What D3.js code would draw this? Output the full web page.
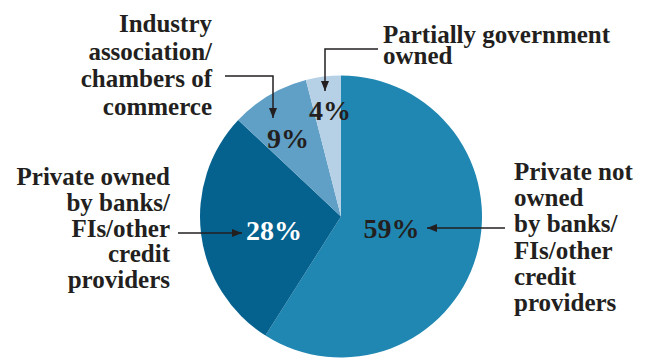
<!DOCTYPE html>
<html>
<head>
<meta charset="utf-8">
<script src="https://cdn.jsdelivr.net/npm/d3@7"></script>
<style>
  html, body { margin: 0; padding: 0; background: #ffffff; }
  svg { display: block; }
  text { font-family: "Liberation Serif", "DejaVu Serif", serif; font-weight: bold; fill: #231f20; }
</style>
</head>
<body>
<svg id="chart" width="647" height="358"></svg>
<script>
// Ownership shares, clockwise from 12 o'clock
const categories = [
  "Private not owned by banks/FIs/other credit providers",
  "Private owned by banks/FIs/other credit providers",
  "Industry association/chambers of commerce",
  "Partially government owned"
];
const shares = [59, 28, 9, 4];
const valueLabels = ["59%", "28%", "9%", "4%"];
const sliceColors = ["#1f87b1", "#05628f", "#609fc6", "#b6d0e5"];

// Category captions, broken into lines as set on the page
const captionLines = [
  ["Private not", "owned", "by banks/", "FIs/other", "credit", "providers"],
  ["Private owned", "by banks/", "FIs/other", "credit", "providers"],
  ["Industry", "association/", "chambers of", "commerce"],
  ["Partially government", "owned"]
];

const svg = d3.select("#chart");
const cx = 341, cy = 216.5, radius = 141;

const pie = d3.pie().sort(null).value(d => d);
const arc = d3.arc().innerRadius(0).outerRadius(radius);
const color = d3.scaleOrdinal().domain(d3.range(shares.length)).range(sliceColors);

const g = svg.append("g").attr("transform", `translate(${cx},${cy})`);
const arcs = pie(shares);

g.selectAll("path.slice")
  .data(arcs)
  .join("path")
  .attr("class", "slice")
  .attr("d", arc)
  .attr("fill", (d, i) => color(i));

// Percentage labels inside the slices (offsets from pie centre)
const pctLayout = [
  { dx: 50.5, dy: 21.5, fill: "#231f20" },
  { dx: -67, dy: 23.5, fill: "#ffffff" },
  { dx: -53, dy: -69, fill: "#231f20" },
  { dx: -11, dy: -97, fill: "#231f20" }
];
g.selectAll("text.pct")
  .data(arcs)
  .join("text")
  .attr("class", "pct")
  .attr("x", (d, i) => pctLayout[i].dx)
  .attr("y", (d, i) => pctLayout[i].dy)
  .attr("text-anchor", "middle")
  .style("font-size", "28px")
  .style("fill", (d, i) => pctLayout[i].fill)
  .text((d, i) => valueLabels[i]);

// Captions
const captionLayout = [
  { x: 514, y: 180, lh: 26.2, anchor: "start" },
  { x: 170, y: 185, lh: 25.8, anchor: "end" },
  { x: 212, y: 32, lh: 27.5, anchor: "end" },
  { x: 383, y: 43, lh: 21, anchor: "start" }
];
captionLines.forEach((lines, i) => {
  const L = captionLayout[i];
  const t = svg.append("text")
    .attr("x", L.x).attr("y", L.y)
    .attr("text-anchor", L.anchor)
    .style("font-size", "25px");
  lines.forEach((line, j) => {
    t.append("tspan")
      .attr("x", L.x)
      .attr("y", L.y + j * L.lh)
      .text(line);
  });
});

// Leader arrows from captions to the values
svg.append("defs").append("marker")
  .attr("id", "arrow")
  .attr("viewBox", "0 0 10 8")
  .attr("refX", 10).attr("refY", 4)
  .attr("markerWidth", 10).attr("markerHeight", 8)
  .attr("markerUnits", "userSpaceOnUse")
  .attr("orient", "auto")
  .append("path")
  .attr("d", "M0,0 L10,4 L0,8 Z")
  .attr("fill", "#231f20");

const leaders = [
  [[505, 228], [427, 228]],
  [[178, 233], [242, 233]],
  [[225, 76], [273, 76], [273, 118]],
  [[378, 49], [325, 49], [325, 91]]
];
const line = d3.line();
svg.selectAll("path.leader")
  .data(leaders)
  .join("path")
  .attr("class", "leader")
  .attr("d", line)
  .attr("fill", "none")
  .attr("stroke", "#231f20")
  .attr("stroke-width", 1.5)
  .attr("marker-end", "url(#arrow)");
</script>
</body>
</html>
